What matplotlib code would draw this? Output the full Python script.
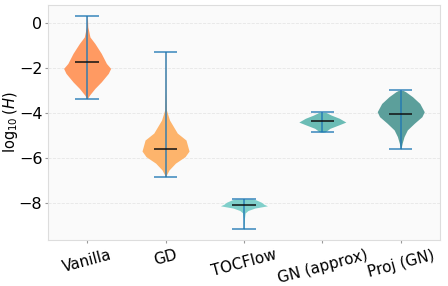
import numpy as np
import matplotlib.pyplot as plt

# методы и сводка по распределениям log10(H)
methods = ["Vanilla", "GD", "TOCFlow", "GN (approx)", "Proj (GN)"]
v_min = [-3.35, -6.84, -9.17, -4.84, -5.59]
v_max = [0.35, -1.26, -7.82, -3.96, -2.98]
v_med = [-1.73, -5.59, -8.08, -4.36, -4.03]

# профили плотности (уровень y, относительная полуширина)
vanilla_y = [0.35, -0.15, -0.6, -0.89, -1.33, -1.78, -2.0, -2.22, -2.6, -2.89, -3.19, -3.35]
vanilla_w = [0.01, 0.03, 0.12, 0.33, 0.6, 0.82, 1.0, 0.9, 0.6, 0.33, 0.1, 0.01]
gd_y = [-1.26, -3.0, -3.86, -4.3, -4.88, -5.19, -5.68, -5.93, -6.22, -6.52, -6.74, -6.84]
gd_w = [0.01, 0.02, 0.04, 0.17, 0.5, 0.87, 1.0, 0.83, 0.42, 0.15, 0.04, 0.01]
toc_y = [-7.82, -7.85, -7.96, -8.05, -8.12, -8.22, -8.33, -8.44, -8.7, -9.17]
toc_w = [0.35, 0.5, 0.74, 0.85, 1.0, 0.46, 0.17, 0.05, 0.02, 0.01]
gn_y = [-3.96, -4.08, -4.22, -4.39, -4.52, -4.67, -4.82, -4.84]
gn_w = [0.15, 0.38, 0.72, 1.0, 0.69, 0.32, 0.13, 0.05]
proj_y = [-2.98, -3.04, -3.26, -3.56, -3.93, -4.15, -4.44, -4.74, -5.04, -5.33, -5.59]
proj_w = [0.1, 0.21, 0.5, 0.81, 1.0, 0.9, 0.58, 0.28, 0.14, 0.06, 0.01]

profiles = [(vanilla_y, vanilla_w), (gd_y, gd_w), (toc_y, toc_w), (gn_y, gn_w), (proj_y, proj_w)]
colors = ["#ff9a62", "#fdb46c", "#7fcfca", "#6bbcb5", "#5c9f9b"]

widths = 0.6
fig, ax = plt.subplots(figsize=(4.48, 2.86), dpi=100)
fig.subplots_adjust(left=0.107, right=0.982, top=0.983, bottom=0.161)
ax.set_facecolor("#fafafa")

positions = np.arange(1, len(methods) + 1)
for pos, (py, pw), col in zip(positions, profiles, colors):
    py = np.array(py)
    hw = np.array(pw) * widths / 2
    ax.fill_betweenx(py, pos - hw, pos + hw, color=col, lw=0, zorder=2)

cap = widths * 0.25
ax.vlines(positions, v_min, v_max, color="#1f77b4", alpha=0.75, lw=1.3, zorder=3)
ax.hlines(v_max, positions - cap, positions + cap, color="#1f77b4", alpha=0.75, lw=1.3, zorder=3)
ax.hlines(v_min, positions - cap, positions + cap, color="#1f77b4", alpha=0.75, lw=1.3, zorder=3)
ax.hlines(v_med, positions - cap, positions + cap, color="#111111", lw=1.1, zorder=4)

ax.set_xlim(0.5, 5.5)
ax.set_ylim(-9.64, 0.83)
ax.set_yticks([0, -2, -4, -6, -8])
ax.set_xticks(positions)
ax.set_xticklabels(methods, rotation=15, fontsize=11)
ax.tick_params(axis="y", labelsize=11.5, length=2, pad=2)
ax.tick_params(axis="x", length=2)
ax.tick_params(colors="#999999", labelcolor="black")
ax.set_ylabel(r"$\log_{10}(H)$", fontsize=10.5)
ax.yaxis.set_label_coords(-0.072, 0.5)
ax.grid(True, axis="y", ls="--", lw=0.6, color="#e6e6e6", zorder=0)
ax.set_axisbelow(True)
for s in ax.spines.values():
    s.set_color("#dddddd")

plt.savefig("out.png", dpi=100)
